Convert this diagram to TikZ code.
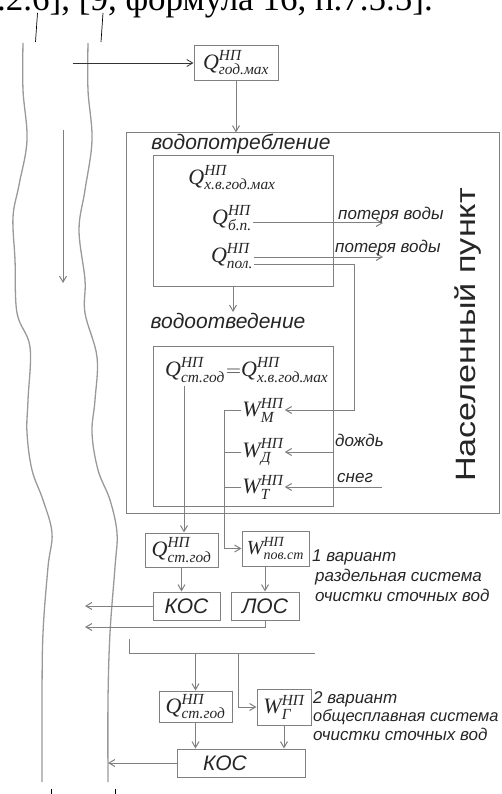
\documentclass[tikz,border=0pt]{standalone}
\usepackage{fontspec}
\usepackage{amsmath}
\usepackage{graphicx}
\setmainfont{Liberation Serif}
\newfontfamily\arial{Liberation Sans}
\usetikzlibrary{arrows.meta}

\newcommand{\np}[2]{$\text{\itshape #1}^{\text{\itshape НП}}_{\text{\itshape #2}}$}

\begin{document}
\begin{tikzpicture}[x=1pt, y=-1pt,
  box/.style={draw=black!50, line width=1pt, inner sep=1pt},
  wire/.style={draw=black!50, line width=1pt},
  flow/.style={wire, -{Straight Barb[length=6pt, width=7pt]}},
  bank/.style={draw=black!40, line width=1.3pt},
  mth/.style={font=\fontsize{22}{24}\selectfont, inner sep=1pt, text=black!85},
  lbl/.style={font=\arial\itshape\fontsize{17}{20}\selectfont, inner sep=0pt, text=black!85},
  head/.style={font=\arial\itshape\fontsize{21}{24}\selectfont, inner sep=0pt, text=black!85},
  plant/.style={font=\arial\itshape\fontsize{21}{24}\selectfont, text=black!85}]

  \useasboundingbox (0,0) rectangle (501,794);
  \clip (0,0) rectangle (501,794);

  % Page text above the figure
  \node[anchor=base west, inner sep=0pt, font=\fontsize{35}{40}\selectfont] (ref) at (-3,11) {.2.6], [9, формула 16, п.7.5.5].};

  % Leader ticks
  \draw[black, line width=0.7pt] (37.5,13) -- (35.5,42);
  \draw[black, line width=0.7pt] (103,13) -- (101,42);
  \draw[black, line width=0.6pt] (51,789) -- (51,794);
  \draw[black, line width=0.6pt] (115,789) -- (115,794);

  % River banks
  \draw[bank] plot[smooth, tension=0.6] coordinates {(23,43) (23,90) (27,140) (19,185) (13,217) (15,260) (17,313) (30,347) (28,400) (27,433) (32,470) (43,500) (52,533) (48,567) (43,633) (42,700) (42,782)};
  \draw[bank] plot[smooth, tension=0.6] coordinates {(88,43) (88,90) (92,140) (85,190) (79,230) (85,280) (85,313) (97,357) (95,400) (92,433) (98,470) (110,500) (117,533) (115,567) (110,633) (108,700) (108,782)};

  % Flow direction
  \coordinate (up) at (63,130);
  \coordinate (down) at (63,283);
  \draw[flow] (up) -- (down);

  % Intake
  \node[box, mth, minimum width=84, minimum height=35] (qmax) at (236,63) {\np{Q}{год.мах}};
  \coordinate (intake) at (73,63);
  \draw[flow, draw=black!80, line width=0.8pt] (intake) -- (qmax.west);

  % Settlement
  \node[box, minimum width=373, minimum height=380] (town) at (312.5,323) {};
  \node[rotate=90, inner sep=0pt, font=\arial\fontsize{28}{30}\selectfont, text=black!85] (townname) at (468,335) {\scalebox{1.22}[1]{Населенный пункт}};
  \draw[flow] (qmax.south) -- (qmax.south |- town.north);

  % Water consumption
  \node[head, anchor=base] (usename) at (241,150) {водопотребление};
  \node[box, minimum width=180, minimum height=130] (use) at (243,221) {};
  \node[mth] (qxv) at (232,178) {\np{Q}{х.в.год.мах}};
  \node[mth] (qbp) at (232,218) {\np{Q}{б.п.}};
  \node[mth] (qpol) at (232,256) {\np{Q}{пол.}};
  \coordinate (lossA) at (383,223);
  \coordinate (lossB) at (383,257);
  \draw[flow] (qbp.east |- lossA) -- (lossA);
  \draw[flow] (qpol.east |- lossB) -- (lossB);
  \node[lbl, anchor=base west] (lossAname) at (338,219) {потеря воды};
  \node[lbl, anchor=base west] (lossBname) at (335,252) {потеря воды};

  % Water disposal
  \coordinate (dtip) at (233,312);
  \draw[flow] (dtip |- use.south) -- (dtip);
  \node[head, anchor=base] (dropname) at (228,328) {водоотведение};
  \node[box, minimum width=180, minimum height=160] (drain) at (243,426) {};
  \node[mth] (qst) at (195,370) {\np{Q}{ст.год}};
  \node[mth, anchor=west, inner sep=0pt] (qxv2) at (qst.east) {$=$\np{Q}{х.в.год.мах}};
  \node[mth] (wm) at (263,410) {\np{W}{М}};
  \node[mth] (wd) at (263,452) {\np{W}{Д}};
  \node[mth] (wt) at (263,487) {\np{W}{Т}};
  \coordinate (wmturn) at (354,410);
  \draw[flow] ([yshift=-8pt]qpol.east) -| (wmturn) -- (wmturn -| wm.east);
  \coordinate (rain) at (333,452);
  \coordinate (snow) at (382,487);
  \draw[flow] (rain) -- (rain -| wd.east);
  \draw[flow] (snow) -- (snow -| wt.east);
  \node[lbl, anchor=base west] (rainname) at (335,446) {дождь};
  \node[lbl, anchor=base west] (snowname) at (337,482) {снег};

  % Variant 1: separate system
  \node[box, mth, minimum width=73, minimum height=34] (qst1) at (181.5,550) {\np{Q}{ст.год}};
  \node[box, mth, font=\fontsize{20}{22}\selectfont, minimum width=67, minimum height=35] (wps) at (275.5,548.5) {\np{W}{пов.ст}};
  \node[lbl, anchor=base west] (var1a) at (312,561) {1 вариант};
  \node[lbl, anchor=base west] (var1b) at (315,581) {раздельная система};
  \node[lbl, anchor=base west] (var1c) at (315,601) {очистки сточных вод};
  \node[box, plant, minimum width=67, minimum height=28] (kos1) at (186.5,606) {КОС};
  \node[box, plant, minimum width=68, minimum height=28] (los) at (265,606) {ЛОС};
  \coordinate (dropA) at (184,386);
  \coordinate (coll) at (224,410);
  \coordinate (outA) at (85,606);
  \coordinate (outB) at (85,627);
  \draw[flow] (dropA) -- (dropA |- qst1.north);
  \draw[flow] (wm.west) -- (wm.west -| coll) |- (wps.west);
  \draw[wire] (wd.west) -- (wd.west -| coll);
  \draw[wire] (wt.west) -- (wt.west -| coll);
  \draw[flow] (qst1.south) -- (qst1.south |- kos1.north);
  \draw[flow] (los.north |- wps.south) -- (los.north);
  \draw[flow] (kos1.west) -- (outA);
  \draw[flow] (los.south) |- (outB);

  % Variant 2: combined system
  \coordinate (colB) at (129,639);
  \coordinate (colE) at (315,653);
  \coordinate (tapG) at (238,653);
  \draw[wire] (colB) |- (colE);
  \node[box, mth, minimum width=73, minimum height=31] (qst2) at (195.5,706.5) {\np{Q}{ст.год}};
  \node[box, mth, minimum width=54, minimum height=36] (wg) at (284,707) {\np{W}{Г}};
  \node[lbl, anchor=base west] (var2a) at (313,703) {2 вариант};
  \node[lbl, anchor=base west, font=\arial\itshape\fontsize{16.4}{20}\selectfont] (var2b) at (313,721) {общесплавная система};
  \node[lbl, anchor=base west] (var2c) at (313,740) {очистки сточных вод};
  \node[box, minimum width=128, minimum height=28] (kos2) at (241,763) {};
  \node[plant, inner sep=0pt] (kos2name) at ([xshift=-16pt]kos2.center) {КОС};
  \coordinate (outC) at (108,763);
  \draw[flow] (qst2.north |- colE) -- (qst2.north);
  \draw[flow] (tapG) |- (wg.west);
  \draw[flow] (qst2.south) -- (qst2.south |- kos2.north);
  \draw[flow] (wg.south) -- (wg.south |- kos2.north);
  \draw[flow] (kos2.west) -- (outC);

\end{tikzpicture}
\end{document}
